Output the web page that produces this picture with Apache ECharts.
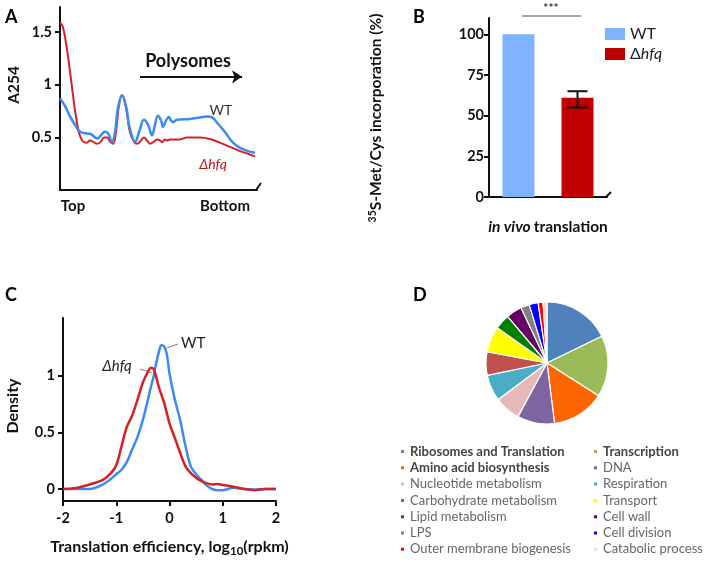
<!DOCTYPE html>
<html><head><meta charset="utf-8">
<script src="https://cdn.jsdelivr.net/npm/echarts@6/dist/echarts.min.js"></script>
<style>html,body{margin:0;padding:0;background:#fff}#c{width:709px;height:564px}</style>
</head><body><div id="c"></div>
<script>
const FONT = 'Lato, "Open Sans", sans-serif';
const BLUE = '#3D8BF2', RED = '#D42026';

// ---------- Panel A: polysome profile (position along gradient %, A254) ----------
const aWtPos = [0,2.5,5.1,7.6,10.2,12.7,15.2,17.8,18.8,20.8,22.8,24.4,26.4,27.9,29.4,31.5,33.5,35.5,38.1,40.6,42.6,44.7,46.7,48.2,49.7,51.3,52.3,53.8,55.3,56.3,57.4,58.9,60.9,66.0,71.1,74.6,77.2,80.2,83.8,87.8,91.4,95.4,99.0];
const aWtVal = [0.87,0.80,0.70,0.62,0.555,0.54,0.535,0.50,0.49,0.52,0.555,0.54,0.46,0.55,0.78,0.90,0.80,0.58,0.46,0.58,0.667,0.62,0.52,0.62,0.705,0.66,0.60,0.66,0.695,0.66,0.645,0.665,0.67,0.675,0.69,0.70,0.69,0.63,0.55,0.45,0.40,0.37,0.355];
const aHfqPos = [0,1.5,3.6,5.6,7.6,9.6,11.7,13.7,15.2,16.8,18.8,20.8,22.3,23.9,25.4,26.9,28.4,29.9,31.5,33.5,35.5,37.6,39.1,41.1,42.6,44.2,45.7,47.7,49.2,50.8,51.8,53.3,54.3,55.8,58.4,60.9,64.5,68.5,71.1,76.1,81.2,86.3,91.4,95.4,99.0];
const aHfqVal = [1.59,1.55,1.33,1.05,0.76,0.55,0.46,0.45,0.47,0.46,0.44,0.46,0.50,0.50,0.46,0.44,0.55,0.80,0.90,0.78,0.55,0.46,0.44,0.47,0.50,0.47,0.44,0.46,0.48,0.47,0.455,0.48,0.47,0.48,0.48,0.48,0.50,0.50,0.50,0.485,0.45,0.41,0.37,0.345,0.32];
const aTicks = [0.5, 1, 1.5];

// ---------- Panel B: in vivo translation ----------
const bCats = ['WT', 'Δhfq'];
const bMeans = [100, 61];
const bErrLow = [null, 55];
const bErrHigh = [null, 65];
const bTicks = [0, 25, 50, 75, 100];

// ---------- Panel C: translation efficiency density ----------
const cPos = [-2,-1.75,-1.5,-1.25,-1.1,-1,-0.9,-0.8,-0.7,-0.6,-0.5,-0.4,-0.35,-0.3,-0.25,-0.2,-0.15,-0.1,-0.05,0,0.1,0.2,0.3,0.4,0.5,0.6,0.7,0.8,0.9,1.0,1.2,1.4,1.6,1.8,2];
const cWt  = [0,0,0,0.04,0.09,0.13,0.17,0.24,0.35,0.46,0.61,0.80,0.90,0.99,1.11,1.21,1.27,1.26,1.19,1.02,0.79,0.61,0.38,0.20,0.13,0.08,0.03,0.0,-0.01,-0.01,0.01,0.0,-0.005,0,0];
const cHfq = [0,0.01,0.04,0.08,0.14,0.21,0.38,0.55,0.65,0.79,0.94,1.04,1.07,1.06,0.99,0.90,0.83,0.76,0.67,0.58,0.45,0.32,0.20,0.14,0.10,0.07,0.05,0.04,0.045,0.035,0.02,0.0,-0.01,0,0];
const cYTicks = [0, 0.5, 1];

// ---------- Panel D: functional categories ----------
const dNames = ['Ribosomes and Translation','Transcription','Amino acid biosynthesis','DNA','Nucleotide metabolism','Respiration','Carbohydrate metabolism','Transport','Lipid metabolism','Cell wall','LPS','Cell division','Outer membrane biogenesis','Catabolic process'];
const dValues = [64,58.6,50.3,35.6,24.7,25.1,22.3,24.8,14.3,15.1,8.3,8.5,4.7,3.7];
const dColors = ['#4F81BD','#9BBB59','#FF6600','#8064A2','#E6B9B8','#4BACC6','#C0504D','#FFFF00','#008000','#660066','#808080','#0000FF','#FF0000','#FCD5B4'];
const dBold = ['Ribosomes and Translation','Transcription','Amino acid biosynthesis'];
const dLeft = ['Ribosomes and Translation','Amino acid biosynthesis','Nucleotide metabolism','Carbohydrate metabolism','Lipid metabolism','LPS','Outer membrane biogenesis'];
const dRight = ['Transcription','DNA','Respiration','Transport','Cell wall','Cell division','Catabolic process'];

const zip = (xs, ys) => xs.map((x, i) => [x, ys[i]]);
const axisLineBlack = {show: true, lineStyle: {color: '#111', width: 2}};
const tickLabel = {fontFamily: FONT, fontWeight: 'bold', fontSize: 14.5, color: '#111'};
const legendRich = {
  b: {fontFamily: FONT, fontWeight: 'bold', fontSize: 13, lineHeight: 14, color: '#444'},
  n: {fontFamily: FONT, fontSize: 13, lineHeight: 14, color: '#666'}
};

const chart = echarts.init(document.getElementById('c'));
chart.setOption({
  animation: false,
  textStyle: {fontFamily: FONT},
  grid: [
    {left: 60, top: 7, width: 197, height: 183},
    {left: 489, top: 18, width: 118, height: 179},
    {left: 63, top: 318, width: 213, height: 183}
  ],
  xAxis: [
    {gridIndex: 0, type: 'value', min: 0, max: 100, axisLine: axisLineBlack, axisTick: {show: false}, axisLabel: {show: false}, splitLine: {show: false}},
    {gridIndex: 1, type: 'category', data: bCats, axisLine: axisLineBlack, axisTick: {show: false}, axisLabel: {show: false},
      name: '{i|in vivo} {n|translation}', nameLocation: 'middle', nameGap: 22,
      nameTextStyle: {rich: {i: {fontFamily: FONT, fontStyle: 'italic', fontWeight: 'bold', fontSize: 15.5, color: '#111'}, n: {fontFamily: FONT, fontWeight: 'bold', fontSize: 15.5, color: '#111'}}}},
    {gridIndex: 2, type: 'value', min: -2, max: 2, interval: 1, axisLine: {...axisLineBlack, onZero: false},
      axisTick: {show: true, length: 5, lineStyle: {color: '#111', width: 2}},
      axisLabel: {...tickLabel, margin: 10, formatter: v => String(v)}, splitLine: {show: false},
      name: '{n|Translation efficiency, log}{s|10}{n|(rpkm)}', nameLocation: 'middle', nameGap: 36,
      nameTextStyle: {rich: {n: {fontFamily: FONT, fontWeight: 'bold', fontSize: 16, color: '#111'}, s: {fontFamily: FONT, fontWeight: 'bold', fontSize: 11.5, color: '#111', verticalAlign: 'bottom', padding: [8, 0, 0, 0]}}}}
  ],
  yAxis: [
    {gridIndex: 0, type: 'value', min: 0, max: 1.74, axisLine: {...axisLineBlack, onZero: false},
      axisTick: {show: true, length: 5, customValues: aTicks, lineStyle: {color: '#111', width: 2}},
      axisLabel: {...tickLabel, customValues: aTicks, margin: 8}, splitLine: {show: false}},
    {gridIndex: 1, type: 'value', min: 0, max: 110, axisLine: {...axisLineBlack, onZero: false},
      axisTick: {show: true, length: 5, customValues: bTicks, lineStyle: {color: '#111', width: 2}},
      axisLabel: {...tickLabel, customValues: bTicks, margin: 5}, splitLine: {show: false}},
    {gridIndex: 2, type: 'value', min: -0.106, max: 1.51, axisLine: {...axisLineBlack, onZero: false},
      axisTick: {show: true, length: 5, customValues: cYTicks, lineStyle: {color: '#111', width: 2}},
      axisLabel: {...tickLabel, customValues: cYTicks, margin: 8, formatter: v => String(v)}, splitLine: {show: false}}
  ],
  legend: [
    {data: bCats, orient: 'vertical', left: 605, top: 26, padding: 0, itemWidth: 20, itemHeight: 12, itemGap: 4, icon: 'rect', selectedMode: false,
      formatter: n => n === 'WT' ? '{n|WT}' : '{n|Δ}{i|hfq}',
      textStyle: {rich: {n: {fontFamily: FONT, fontSize: 16, color: '#222'}, i: {fontFamily: FONT, fontSize: 16, fontStyle: 'italic', color: '#222'}}}},
    {data: dLeft, orient: 'vertical', left: 399, top: 445, padding: 0, itemWidth: 5, itemHeight: 5, itemGap: 3.3, icon: 'rect', selectedMode: false,
      formatter: n => dBold.includes(n) ? '{b|' + n + '}' : '{n|' + n + '}',
      textStyle: {rich: legendRich}},
    {data: dRight, orient: 'vertical', left: 592, top: 445, padding: 0, itemWidth: 5, itemHeight: 5, itemGap: 3.3, icon: 'rect', selectedMode: false,
      formatter: n => dBold.includes(n) ? '{b|' + n + '}' : '{n|' + n + '}',
      textStyle: {rich: legendRich}}
  ],
  series: [
    {name: 'A WT', type: 'line', xAxisIndex: 0, yAxisIndex: 0, data: zip(aWtPos, aWtVal), smooth: 0.4, showSymbol: false, lineStyle: {color: BLUE, width: 2.5}, itemStyle: {color: BLUE}, z: 3,
      markLine: {silent: true, symbol: ['none', 'arrow'], symbolSize: 10, label: {show: false}, lineStyle: {color: '#111', width: 2, type: 'solid'},
        data: [[{coord: [40.6, 1.076]}, {coord: [92.4, 1.076]}]]}},
    {name: 'A hfq', type: 'line', xAxisIndex: 0, yAxisIndex: 0, data: zip(aHfqPos, aHfqVal), smooth: 0.4, showSymbol: false, lineStyle: {color: RED, width: 2}, itemStyle: {color: RED}, z: 2},
    {name: 'WT', type: 'bar', xAxisIndex: 1, yAxisIndex: 1, data: [bMeans[0], '-'], barWidth: 32, barGap: '-100%', itemStyle: {color: '#7FB2FF'}},
    {name: 'Δhfq', type: 'bar', xAxisIndex: 1, yAxisIndex: 1, data: ['-', bMeans[1]], barWidth: 32, barGap: '-100%', itemStyle: {color: '#C00000'}},
    {name: 'err', type: 'custom', xAxisIndex: 1, yAxisIndex: 1, z: 5,
      data: bCats.map((c, i) => [i, bErrLow[i], bErrHigh[i]]).filter(d => d[1] != null),
      renderItem: (params, api) => {
        const lo = api.coord([api.value(0), api.value(1)]);
        const hi = api.coord([api.value(0), api.value(2)]);
        const hw = 10, st = {stroke: '#111', lineWidth: 2};
        return {type: 'group', children: [
          {type: 'line', shape: {x1: lo[0], y1: lo[1], x2: hi[0], y2: hi[1]}, style: st},
          {type: 'line', shape: {x1: lo[0] - hw, y1: lo[1], x2: lo[0] + hw, y2: lo[1]}, style: st},
          {type: 'line', shape: {x1: hi[0] - hw, y1: hi[1], x2: hi[0] + hw, y2: hi[1]}, style: st}
        ]};
      }},
    {name: 'C WT', type: 'line', xAxisIndex: 2, yAxisIndex: 2, data: zip(cPos, cWt), smooth: 0.35, showSymbol: false, lineStyle: {color: BLUE, width: 2.5}, z: 2},
    {name: 'C hfq', type: 'line', xAxisIndex: 2, yAxisIndex: 2, data: zip(cPos, cHfq), smooth: 0.35, showSymbol: false, lineStyle: {color: RED, width: 2.5}, z: 3},
    {name: 'D', type: 'pie', center: [547, 363], radius: 61, startAngle: 90, clockwise: true, label: {show: false}, labelLine: {show: false},
      itemStyle: {borderColor: '#fff', borderWidth: 1.2},
      data: dNames.map((n, i) => ({name: n, value: dValues[i], itemStyle: {color: dColors[i]}}))}
  ],
  graphic: [
    {type: 'text', x: 5, y: 8, style: {text: 'A', font: 'bold 18px ' + FONT, fill: '#000'}},
    {type: 'text', x: 413, y: 8, style: {text: 'B', font: 'bold 18px ' + FONT, fill: '#000'}},
    {type: 'text', x: 5, y: 286, style: {text: 'C', font: 'bold 18px ' + FONT, fill: '#000'}},
    {type: 'text', x: 413, y: 286, style: {text: 'D', font: 'bold 18px ' + FONT, fill: '#000'}},
    {type: 'text', x: 14, y: 85, rotation: Math.PI / 2, style: {text: 'A254', font: 'bold 15.5px ' + FONT, fill: '#111', textAlign: 'center', textVerticalAlign: 'middle'}},
    {type: 'text', x: 13, y: 406, rotation: Math.PI / 2, style: {text: 'Density', font: 'bold 16px ' + FONT, fill: '#111', textAlign: 'center', textVerticalAlign: 'middle'}},
    {type: 'text', x: 188, y: 61, style: {text: 'Polysomes', font: 'bold 18px ' + FONT, fill: '#111', textAlign: 'center', textVerticalAlign: 'middle'}},
    {type: 'text', x: 73, y: 206, style: {text: 'Top', font: 'bold 15px ' + FONT, fill: '#111', textAlign: 'center', textVerticalAlign: 'middle'}},
    {type: 'text', x: 225, y: 206, style: {text: 'Bottom', font: 'bold 15px ' + FONT, fill: '#111', textAlign: 'center', textVerticalAlign: 'middle'}},
    {type: 'text', x: 221, y: 110, style: {text: 'WT', font: '14px ' + FONT, fill: '#333', textAlign: 'center', textVerticalAlign: 'middle'}},
    {type: 'text', x: 213, y: 164, style: {text: 'Δhfq', font: 'italic 14px ' + FONT, fill: '#C01818', textAlign: 'center', textVerticalAlign: 'middle'}},
    {type: 'line', shape: {x1: 256, y1: 190, x2: 261, y2: 183}, style: {stroke: '#111', lineWidth: 2}},
    {type: 'line', shape: {x1: 606, y1: 197, x2: 611, y2: 192}, style: {stroke: '#111', lineWidth: 2}},
    {type: 'text', x: 376, y: 118, rotation: Math.PI / 2,
      style: {text: '{s|35}{n|S-Met/Cys incorporation (%)}', textAlign: 'center', textVerticalAlign: 'middle',
        rich: {s: {font: 'bold 10.5px ' + FONT, fill: '#111', verticalAlign: 'top', padding: [0, 0, 6, 0]}, n: {font: 'bold 15.5px ' + FONT, fill: '#111'}}}},
    {type: 'line', shape: {x1: 522, y1: 16, x2: 581, y2: 16}, style: {stroke: '#888', lineWidth: 1.5}},
    {type: 'text', x: 551, y: 8, style: {text: '***', font: 'bold 12px ' + FONT, fill: '#333', textAlign: 'center', textVerticalAlign: 'middle'}},
    {type: 'line', shape: {x1: 167, y1: 348, x2: 178, y2: 344}, style: {stroke: '#888', lineWidth: 1.2}},
    {type: 'text', x: 181, y: 343, style: {text: 'WT', font: '15px ' + FONT, fill: '#222', textAlign: 'left', textVerticalAlign: 'middle'}},
    {type: 'line', shape: {x1: 140, y1: 369, x2: 152, y2: 373}, style: {stroke: '#888', lineWidth: 1.2}},
    {type: 'text', x: 117, y: 366, style: {text: 'Δhfq', font: 'italic 15px ' + FONT, fill: '#222', textAlign: 'center', textVerticalAlign: 'middle'}}
  ]
});
</script>
</body></html>
